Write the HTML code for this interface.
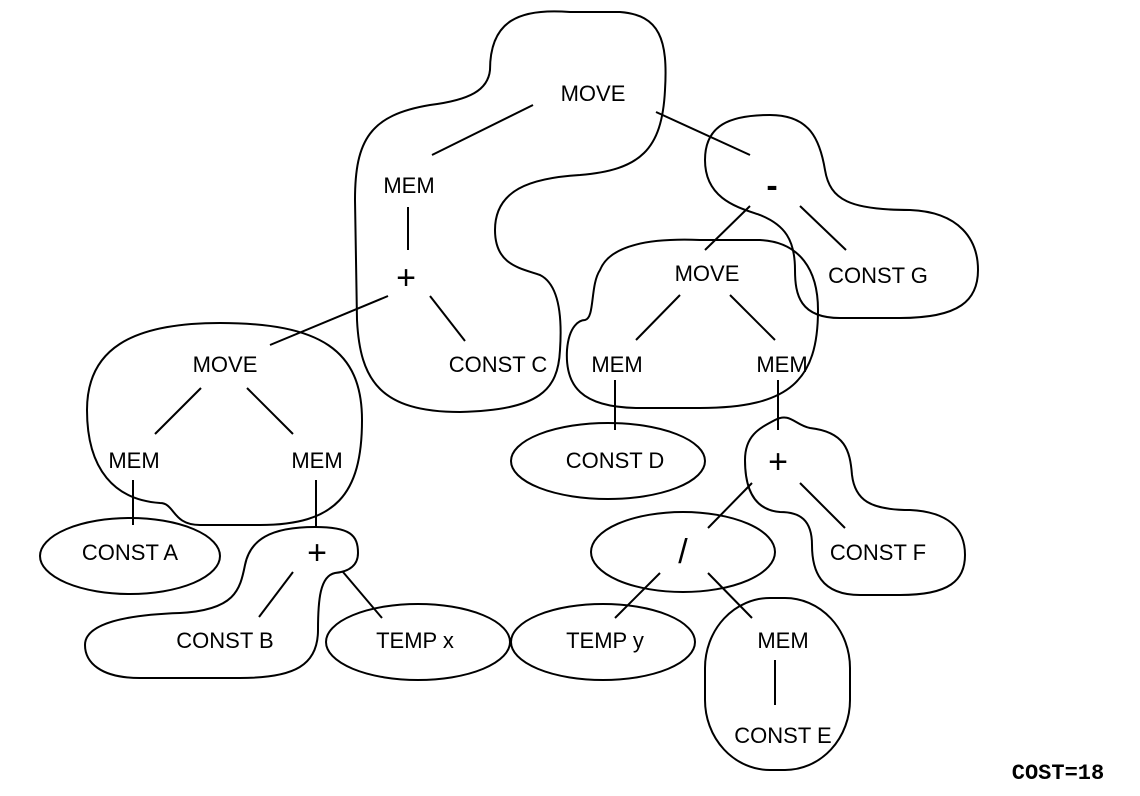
<!DOCTYPE html>
<html><head><meta charset="utf-8"><style>
body{margin:0;background:#fff;}
svg{display:block;}
text{font-family:"Liberation Sans",Arial,sans-serif;font-size:22px;fill:#000;text-anchor:middle;}
.b{font-size:34px;}
</style></head><body>
<svg width="1140" height="796" viewBox="0 0 1140 796">
<g fill="none" stroke="#000" stroke-width="2">
<path d="M 490 70 C 490 20, 520 8, 570 12 L 620 12 C 660 15, 668 40, 665 90 C 662 150, 640 170, 580 175 C 530 178, 495 190, 495 230 C 495 265, 520 268, 540 275 C 560 285, 562 320, 560 350 C 558 390, 540 410, 460 412 C 380 412, 360 380, 357 320 L 355 200 C 355 140, 370 115, 430 105 C 470 100, 488 90, 490 70 Z"/>
<path d="M 705 160 C 705 125, 730 115, 770 115 C 810 115, 820 140, 825 170 C 830 200, 850 210, 910 210 C 960 212, 978 240, 978 270 C 978 300, 960 318, 900 318 L 840 318 C 800 318, 795 295, 795 270 C 795 240, 785 225, 760 215 C 740 208, 705 200, 705 160 Z"/>
<path d="M 600 270 C 610 245, 650 238, 700 240 L 760 240 C 800 242, 818 270, 818 310 C 818 380, 790 408, 700 408 L 640 408 C 580 408, 565 385, 567 350 C 569 325, 580 320, 585 320 C 595 318, 590 285, 600 270 Z"/>
<path d="M 87 410 C 87 350, 130 323, 220 323 C 320 323, 362 350, 362 420 C 362 495, 335 525, 260 525 L 200 525 C 172 525, 175 503, 160 503 C 115 500, 87 470, 87 410 Z"/>
<path d="M 745 460 C 745 435, 760 428, 775 420 C 790 412, 795 425, 810 428 C 845 432, 850 450, 852 475 C 855 500, 870 510, 910 510 C 950 512, 965 530, 965 555 C 965 580, 950 595, 900 595 L 860 595 C 820 595, 812 570, 812 545 C 812 520, 800 512, 780 512 C 755 510, 745 490, 745 460 Z"/>
<path d="M 85 645 C 85 625, 120 615, 180 613 C 235 610, 240 590, 245 565 C 250 540, 270 527, 315 527 C 350 527, 358 535, 358 553 C 358 568, 345 572, 335 573 C 320 576, 318 600, 318 630 C 318 665, 295 678, 240 678 L 140 678 C 100 678, 85 662, 85 645 Z"/>
<ellipse cx="130" cy="556" rx="90" ry="38"/>
<ellipse cx="418" cy="642" rx="92" ry="38"/>
<ellipse cx="603" cy="642" rx="92" ry="38"/>
<ellipse cx="608" cy="461" rx="97" ry="38"/>
<ellipse cx="683" cy="552" rx="92" ry="40"/>
<rect x="705" y="598" width="145" height="172" rx="65" ry="70"/>
<line x1="533" y1="105" x2="432" y2="155"/>
<line x1="656" y1="112" x2="750" y2="155"/>
<line x1="408" y1="207" x2="408" y2="250"/>
<line x1="388" y1="296" x2="270" y2="345"/>
<line x1="430" y1="296" x2="465" y2="341"/>
<line x1="750" y1="206" x2="705" y2="250"/>
<line x1="800" y1="206" x2="846" y2="250"/>
<line x1="680" y1="295" x2="636" y2="340"/>
<line x1="730" y1="295" x2="775" y2="340"/>
<line x1="615" y1="380" x2="615" y2="430"/>
<line x1="778" y1="380" x2="778" y2="430"/>
<line x1="752" y1="483" x2="708" y2="528"/>
<line x1="800" y1="483" x2="845" y2="528"/>
<line x1="660" y1="573" x2="615" y2="618"/>
<line x1="708" y1="573" x2="752" y2="618"/>
<line x1="775" y1="660" x2="775" y2="705"/>
<line x1="201" y1="388" x2="155" y2="434"/>
<line x1="247" y1="388" x2="293" y2="434"/>
<line x1="133" y1="480" x2="133" y2="525"/>
<line x1="316" y1="480" x2="316" y2="527"/>
<line x1="293" y1="572" x2="259" y2="617"/>
<line x1="343" y1="572" x2="382" y2="618"/>
</g>
<text x="593" y="101">MOVE</text>
<text x="409" y="193">MEM</text>
<text x="406" y="289" class="b">+</text>
<text x="498" y="372">CONST C</text>
<text x="772" y="197" class="b" style="font-weight:bold">-</text>
<text x="878" y="283">CONST G</text>
<text x="707" y="281">MOVE</text>
<text x="617" y="372">MEM</text>
<text x="782" y="372">MEM</text>
<text x="615" y="468">CONST D</text>
<text x="778" y="473" class="b">+</text>
<text x="878" y="560">CONST F</text>
<text x="683" y="563" class="b">/</text>
<text x="605" y="648">TEMP y</text>
<text x="783" y="648">MEM</text>
<text x="783" y="743">CONST E</text>
<text x="225" y="372">MOVE</text>
<text x="134" y="468">MEM</text>
<text x="317" y="468">MEM</text>
<text x="130" y="560">CONST A</text>
<text x="317" y="564" class="b">+</text>
<text x="225" y="648">CONST B</text>
<text x="415" y="648">TEMP x</text>
<text x="1058" y="779" style="font-family:'Liberation Mono',monospace;font-weight:bold;font-size:22px">COST=18</text>
</svg>
</body></html>
